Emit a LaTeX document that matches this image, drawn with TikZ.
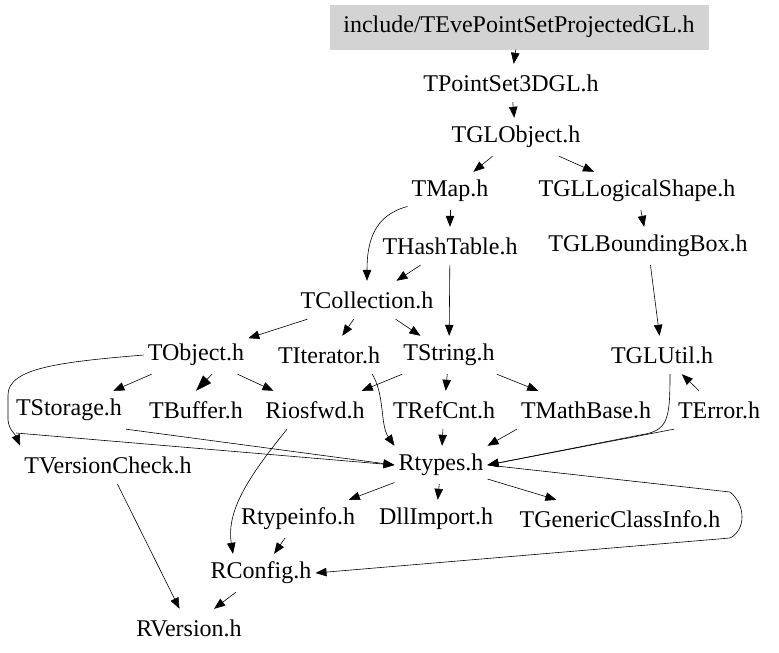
\documentclass[tikz,border=0pt]{standalone}
\usepackage{fontspec}
\setmainfont{Liberation Serif}
\usetikzlibrary{arrows.meta}
\definecolor{boxgray}{RGB}{211,211,211}

\begin{document}
\begin{tikzpicture}[x=1pt, y=-1pt,
        file/.style={inner xsep=4pt, inner ysep=0pt, minimum height=38pt,
          font=\fontsize{24}{28}\selectfont},
        edge/.style={line width=0.6pt, -{Triangle[length=11pt, width=8.5pt]}},
        boldedge/.style={line width=0.6pt, -{Triangle[length=16pt, width=11pt]}}]
        \useasboundingbox (0,0) rectangle (779,653);
        % files, row by row
        \node[file, fill=boxgray, minimum width=379pt, minimum height=45pt] (main) at (519,27) {include/TEvePointSetProjectedGL.h};
        \node[file] (pset) at (511,83) {TPointSet3DGL.h};
        \node[file] (globj) at (516,137) {TGLObject.h};
        \node[file] (tmap) at (450,191) {TMap.h};
        \node[file] (glshape) at (637,191) {TGLLogicalShape.h};
        \node[file] (hash) at (450,246) {THashTable.h};
        \node[file] (glbbox) at (648,246) {TGLBoundingBox.h};
        \node[file] (coll) at (367,300) {TCollection.h};
        \node[file] (tobj) at (196,355) {TObject.h};
        \node[file] (titer) at (329,355) {TIterator.h};
        \node[file] (str) at (449,355) {TString.h};
        \node[file] (glutil) at (662,355) {TGLUtil.h};
        \node[file] (tstor) at (69,410) {TStorage.h};
        \node[file] (tbuf) at (196,410) {TBuffer.h};
        \node[file] (rios) at (315,410) {Riosfwd.h};
        \node[file] (refc) at (444,410) {TRefCnt.h};
        \node[file] (mathb) at (586,410) {TMathBase.h};
        \node[file] (terr) at (719,410) {TError.h};
        \node[file] (tver) at (108,465) {TVersionCheck.h};
        \node[file] (rtyp) at (441,465) {Rtypes.h};
        \node[file] (rinfo) at (298,519) {Rtypeinfo.h};
        \node[file] (dll) at (436,519) {DllImport.h};
        \node[file] (gcinfo) at (620,519) {TGenericClassInfo.h};
        \node[file] (rconf) at (261,573) {RConfig.h};
        \node[file] (rver) at (189,628) {RVersion.h};
        \coordinate (lsplit) at (16,433);

        % includes
        \draw[edge] (main) -- (pset);
        \draw[edge] (pset) -- (globj);
        \draw[edge] (globj) -- (tmap);
        \draw[edge] (globj) -- (glshape);
        \draw[edge] (tmap) -- (hash);
        \draw[edge] (tmap.200) .. controls (375,215) and (367,240) .. (coll.north);
        \draw[edge] (glshape) -- (glbbox);
        \draw[edge] (hash) -- (coll);
        \draw[edge] (hash) -- (str);
        \draw[edge] (glbbox) -- (glutil);
        \draw[edge] (coll) -- (tobj);
        \draw[edge] (coll) -- (titer);
        \draw[edge] (coll) -- (str);
        \draw[edge] (tobj) -- (tstor);
        \draw[boldedge] ([xshift=16pt]tobj.south) -- (tbuf.north);
        \draw[edge] (tobj) -- (rios);
        \draw[edge] (tobj.west) .. controls (60,362) and (8,368) .. (8,395) -- (8,420) .. controls (9,430) and (15,434) .. (tver.north west);
        \draw[edge] (lsplit) -- (rtyp.west);
        \draw[edge] (str) -- (rios);
        \draw[edge] (str) -- (refc);
        \draw[edge] (str) -- (mathb);
        \draw[edge] ([xshift=-12pt]titer.south east) .. controls (385,395) and (380,425) .. (rtyp.north west);
        \draw[edge] (terr) -- (glutil);
        \draw[edge] ([xshift=8pt]glutil.south) .. controls (670,420) and (668,431) .. (640,435) -- (rtyp.east);
        \draw[edge] (terr.south west) -- (rtyp.east);
        \draw[edge] (tstor.south east) -- (rtyp.west);
        \draw[edge] (refc) -- (rtyp);
        \draw[edge] (mathb.south west) -- (rtyp.north east);
        \draw[edge] ([xshift=-28pt]rios.south) .. controls (250,475) and (226,510) .. ([xshift=-28pt]rconf.north);
        \draw[edge] (tver) -- (rver);
        \draw[edge] (rtyp) -- (rinfo);
        \draw[edge] (rtyp) -- (dll);
        \draw[edge] (rtyp) -- (gcinfo);
        \draw[edge] (rtyp.east) -- (730,492) .. controls (746,505) and (746,530) .. (730,538) -- (rconf.east);
        \draw[edge] (rinfo) -- (rconf);
        \draw[edge] (rconf) -- (rver);
        \end{tikzpicture}
\end{document}
